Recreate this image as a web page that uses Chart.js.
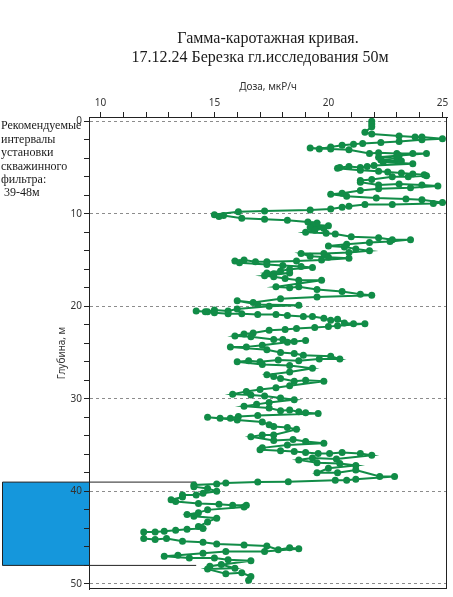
<!DOCTYPE html>
<html>
<head>
<meta charset="utf-8">
<script src="https://cdn.jsdelivr.net/npm/chart.js@4.4.1/dist/chart.umd.min.js"></script>
<style>
  html, body { margin: 0; padding: 0; background: #fff; }
</style>
</head>
<body>
<canvas id="gammaChart" width="453" height="597"></canvas>
<script>
// titles and note text
const titleLines = ["Гамма-каротажная кривая.", "17.12.24 Березка гл.исследования 50м"];
const noteLines = ["Рекомендуемые", "интервалы", "установки", "скважинного", "фильтра:", " 39-48м"];

// axes
const doseTicks = [10, 11, 12, 13, 14, 15, 16, 17, 18, 19, 20, 21, 22, 23, 24, 25];
const doseLabels = [10, 15, 20, 25];
const depthTicks = [0, 2, 4, 6, 8, 10, 12, 14, 16, 18, 20, 22, 24, 26, 28, 30, 32, 34, 36, 38, 40, 42, 44, 46, 48, 50];
const depthLabels = [0, 10, 20, 30, 40, 50];

// recommended filter interval, m
const filterInterval = [39, 48];

const dose = [
  21.9, 21.9, 21.9, 21.6, 21.9,
  23.1, 23.8, 24.1, 25.0,
  24.1, 23.1, 22.3, 21.5, 21.1, 20.6, 20.1, 19.6, 19.2,
  20.1, 20.9, 21.8, 22.2, 23.0, 23.7, 24.3,
  23.1, 22.2, 23.0, 22.3, 23.2, 22.4, 23.7,
  22.0, 21.7, 21.4, 20.9, 20.5, 20.4,
  21.4, 22.2, 22.6, 23.2, 23.7, 24.2, 24.3,
  23.5, 22.8, 21.9, 21.4, 21.4,
  22.2, 23.1, 24.1, 24.8,
  23.6, 22.2, 21.4, 20.6, 20.1,
  20.8, 22.1, 23.4, 24.1, 25.0,
  24.6, 22.8, 21.6, 20.9, 20.6, 20.1, 19.2, 17.2, 16.05, 15.0, 15.2, 15.4,
  16.2, 17.2, 18.2, 19.1,
  19.5, 19.3, 20.0, 19.2, 19.8, 19.4, 19.0, 19.9, 20.3,
  21.0, 22.2, 22.8, 23.6,
  22.7, 21.8, 20.8, 20.0, 20.7, 21.2, 21.8,
  20.9, 19.8, 18.8, 19.2, 20.0, 20.9,
  19.7, 18.6, 17.3, 16.8, 16.3, 15.9, 16.1,
  17.3, 18.0, 18.8, 19.3,
  18.3, 17.9, 17.3, 17.6, 18.3, 17.2, 17.6, 18.1, 18.7, 19.7,
  17.7, 18.3, 18.7, 19.5, 20.6, 21.4, 21.9,
  19.5, 17.9, 16.7, 16.0, 16.9, 18.7, 17.4,
  16.0, 15.6, 15.0, 14.7, 14.2, 14.6, 15.0, 15.6, 16.2,
  16.9, 17.7, 18.2, 18.9, 19.3, 19.8, 20.1, 20.4, 20.7, 21.1, 21.6,
  20.4, 20.0, 19.4, 18.6, 18.1, 17.4, 16.7, 16.3, 15.9,
  16.6, 17.6, 18.0, 18.5, 19.0,
  18.2, 17.1, 16.4, 15.7,
  17.3, 17.9, 18.5, 18.9, 20.1, 20.5,
  19.6, 18.7, 17.8, 17.0, 16.5, 16.0,
  17.1, 18.3, 19.3,
  18.3, 17.3, 17.6,
  17.9, 18.5, 19.0, 19.8,
  18.3, 17.7, 17.0, 16.4, 15.8,
  16.6, 17.2, 17.9, 18.5,
  17.4, 16.85, 16.3, 17.4,
  17.9, 18.3, 18.7, 19.0, 19.55,
  16.9, 16.05, 15.7, 15.25, 14.7,
  16.0, 17.1, 17.4,
  17.6, 18.2, 18.6,
  17.6, 17.1, 16.6,
  17.6, 18.45, 19.0, 19.8,
  18.2, 17.1, 17.0,
  17.9, 18.5, 19.0, 19.55, 20.05, 20.6, 21.4, 21.9,
  20.35, 19.3, 18.7,
  19.5, 20.5, 21.2, 20.0, 19.5, 20.4, 21.2,
  22.25, 22.9,
  21.2, 20.8, 20.3, 18.24, 16.9, 15.5, 15.1, 14.1,
  14.1, 14.7, 15.1, 14.5, 14.2, 13.6, 13.6,
  13.1, 13.3, 14.3,
  15.2, 15.8, 16.4, 16.3,
  14.7, 14.3, 13.8, 14.1,
  15.1, 14.7, 14.3, 14.5,
  13.8, 13.3, 12.8, 12.4, 11.9,
  11.9, 12.4, 12.9, 13.6,
  14.5, 15.1, 16.3, 17.3, 17.8, 18.3, 18.7,
  17.2, 15.5, 14.5, 13.4, 12.8,
  13.9, 15.0, 15.6, 16.6,
  14.8, 15.3, 15.9, 14.7, 15.5, 16.2, 16.6, 16.5
];
const depth = [
  0.0, 0.3, 0.6, 1.2, 1.4,
  1.6, 1.7, 1.7, 1.9,
  2.0, 2.2, 2.3, 2.4, 2.5, 2.6, 2.8, 3.0, 2.9,
  3.0, 3.1, 3.5, 3.4, 3.5, 3.5, 3.5,
  3.7, 3.9, 4.0, 4.2, 4.3, 4.4, 4.6,
  4.8, 4.9, 5.0, 4.9, 5.0, 5.1,
  5.3, 5.4, 5.5, 5.6, 5.7, 5.8, 5.9,
  6.0, 6.0, 6.3, 6.4, 6.6,
  6.9, 6.8, 6.9, 7.0,
  7.2, 7.3, 7.5, 7.8, 7.9,
  8.1, 8.3, 8.4, 8.5, 8.8,
  8.9, 9.0, 9.0, 9.2, 9.3, 9.5, 9.6, 9.7, 9.8, 10.1, 10.3, 10.2,
  10.5, 10.6, 10.7, 10.9,
  11.0, 11.2, 11.3, 11.5, 11.6, 11.8, 12.0, 12.1, 12.2,
  12.5, 12.6, 12.8, 12.8,
  13.0, 13.1, 13.3, 13.5, 13.6, 13.8, 14.0,
  14.2, 14.3, 14.3, 14.6, 14.7, 14.8,
  15.0, 15.1, 15.2, 15.2, 15.0, 15.1, 15.3,
  15.5, 15.6, 15.7, 15.8,
  16.0, 16.2, 16.4, 16.5, 16.4, 16.7, 16.8, 17.0, 17.2, 17.2,
  17.9, 18.0, 17.9, 18.2, 18.4, 18.7, 18.8,
  19.0, 19.2, 19.6, 19.4, 19.8, 19.9, 20.0,
  20.3, 20.5, 20.4, 20.6, 20.5, 20.6, 20.7, 20.8, 20.8,
  20.9, 20.9, 21.0, 21.1, 21.1, 21.3, 21.5, 21.4, 21.8, 21.9, 21.9,
  22.1, 22.2, 22.3, 22.4, 22.5, 22.6, 22.9, 23.0, 23.2,
  23.3, 23.6, 23.6, 23.8, 23.7,
  23.9, 24.2, 24.4, 24.4,
  24.7, 25.0, 25.1, 25.3, 25.4, 25.7,
  25.7, 25.9, 25.8, 26.0, 25.9, 26.0,
  26.3, 26.4, 26.7,
  27.1, 27.4, 27.6,
  27.8, 28.1, 28.0, 28.1,
  28.6, 28.8, 29.0, 29.2, 29.5,
  29.6, 29.7, 29.9, 30.1,
  30.4, 30.6, 30.8, 31.0,
  31.3, 31.2, 31.4, 31.5, 31.6,
  31.8, 31.9, 32.1, 32.1, 32.0,
  32.3, 32.5, 32.8,
  33.0, 33.1, 33.3,
  33.9, 33.9, 34.1,
  34.5, 34.4, 34.6, 34.8,
  35.0, 35.3, 35.5,
  35.6, 35.7, 35.8, 35.9, 35.9, 35.8, 35.9, 36.1,
  36.5, 36.4, 36.6,
  36.9, 37.0, 37.2, 37.5, 38.0, 38.0, 37.7,
  38.4, 38.4,
  38.7, 38.8, 38.8, 38.95, 39.0, 39.1, 39.2, 39.3,
  39.5, 39.7, 40.0, 40.2, 40.4, 40.4, 40.6,
  40.9, 41.1, 41.3,
  41.4, 41.5, 41.5, 41.7,
  42.0, 42.3, 42.5, 42.7,
  42.9, 43.3, 43.8, 44.0,
  44.1, 44.2, 44.3, 44.4, 44.4,
  45.1, 45.2, 45.1, 45.4,
  45.5, 45.7, 45.8, 45.9, 46.3, 46.1, 46.2,
  46.5, 46.5, 46.7, 46.9, 47.0,
  47.2, 47.2, 47.4, 47.5,
  48.1, 47.9, 48.3, 48.4, 48.9, 48.8, 49.2, 49.6
];

const points = dose.map((d, i) => ({ x: d, y: depth[i] }));

const lineColor = "#118c47";
const tickFont = { family: "'Noto Sans', 'Open Sans', sans-serif", size: 10 };

// blue box with the filter interval, drawn under the axes
const filterBox = {
  id: "filterBox",
  beforeDraw(chart) {
    const { ctx, chartArea, scales } = chart;
    const yTop = scales.y.getPixelForValue(filterInterval[0]);
    const yBot = scales.y.getPixelForValue(filterInterval[1]);
    const xEnd = scales.x.getPixelForValue(14.2);
    ctx.save();
    ctx.fillStyle = "#1597dc";
    ctx.fillRect(2, yTop, chartArea.left - 2, yBot - yTop);
    ctx.strokeStyle = "#222";
    ctx.lineWidth = 1;
    ctx.beginPath();
    ctx.moveTo(2.5, yTop); ctx.lineTo(xEnd, yTop);
    ctx.moveTo(2.5, yBot); ctx.lineTo(xEnd, yBot);
    ctx.moveTo(2.5, yTop); ctx.lineTo(2.5, yBot);
    ctx.stroke();
    ctx.restore();
  }
};

// titles, note and frame
const extras = {
  id: "extras",
  afterDraw(chart) {
    const { ctx, chartArea } = chart;
    ctx.save();
    ctx.fillStyle = "#1a1a1a";
    ctx.textAlign = "center";
    ctx.textBaseline = "alphabetic";
    ctx.font = "16px 'Liberation Serif', serif";
    ctx.fillText(titleLines[0], 268, 43);
    ctx.fillText(titleLines[1], 260, 62);

    ctx.textAlign = "left";
    ctx.textBaseline = "middle";
    ctx.font = "12px 'Liberation Serif', serif";
    noteLines.forEach((t, i) => ctx.fillText(t, 1, 126 + i * 13.45));

    ctx.strokeStyle = "#222";
    ctx.lineWidth = 1;
    ctx.strokeRect(chartArea.left + 0.5, chartArea.top + 0.5,
      chartArea.right - chartArea.left - 1, chartArea.bottom - chartArea.top - 1);
    ctx.restore();
  }
};

const ctx = document.getElementById("gammaChart").getContext("2d");
const gammaChart = new Chart(ctx, {
  type: "scatter",
  data: {
    datasets: [{
      label: "Доза",
      data: points,
      showLine: true,
      borderColor: lineColor,
      backgroundColor: lineColor,
      pointBackgroundColor: lineColor,
      pointBorderColor: lineColor,
      borderWidth: 2,
      pointRadius: 3.5,
      pointBorderWidth: 0
    }]
  },
  options: {
    responsive: false,
    animation: false,
    layout: { padding: { top: 70, left: 0, right: 6, bottom: 8 } },
    plugins: {
      legend: { display: false },
      title: { display: false },
      tooltip: { enabled: false }
    },
    scales: {
      x: {
        type: "linear",
        position: "top",
        min: 9.5,
        max: 25.2,
        afterBuildTicks: s => { s.ticks = doseTicks.map(v => ({ value: v })); },
        afterFit: s => { s.height = 47; },
        ticks: {
          autoSkip: false,
          maxRotation: 0,
          padding: 3,
          color: "#333",
          font: tickFont,
          callback: v => doseLabels.includes(v) ? String(v) : ""
        },
        grid: { drawOnChartArea: false, color: "#222", tickColor: "#222", tickLength: 5 },
        border: { color: "#222" },
        title: {
          display: true,
          text: "Доза, мкР/ч",
          color: "#333",
          font: tickFont,
          padding: { top: 11, bottom: 0 }
        }
      },
      y: {
        type: "linear",
        reverse: true,
        min: -0.45,
        max: 50.55,
        afterBuildTicks: s => { s.ticks = depthTicks.map(v => ({ value: v })); },
        afterFit: s => { s.width = 89; },
        ticks: {
          autoSkip: false,
          padding: 2,
          color: "#333",
          font: tickFont,
          callback: v => depthLabels.includes(v) ? String(v) : ""
        },
        grid: {
          color: c => (c.tick && depthLabels.includes(c.tick.value)) ? "#8c8c8c" : "rgba(0,0,0,0)",
          tickColor: "#222",
          tickLength: 5
        },
        border: { color: "#222", dash: [3, 3] },
        title: {
          display: true,
          text: "Глубина, м",
          color: "#333",
          font: tickFont,
          padding: { top: 56, bottom: 0 }
        }
      }
    }
  },
  plugins: [filterBox, extras]
});
</script>
</body>
</html>
